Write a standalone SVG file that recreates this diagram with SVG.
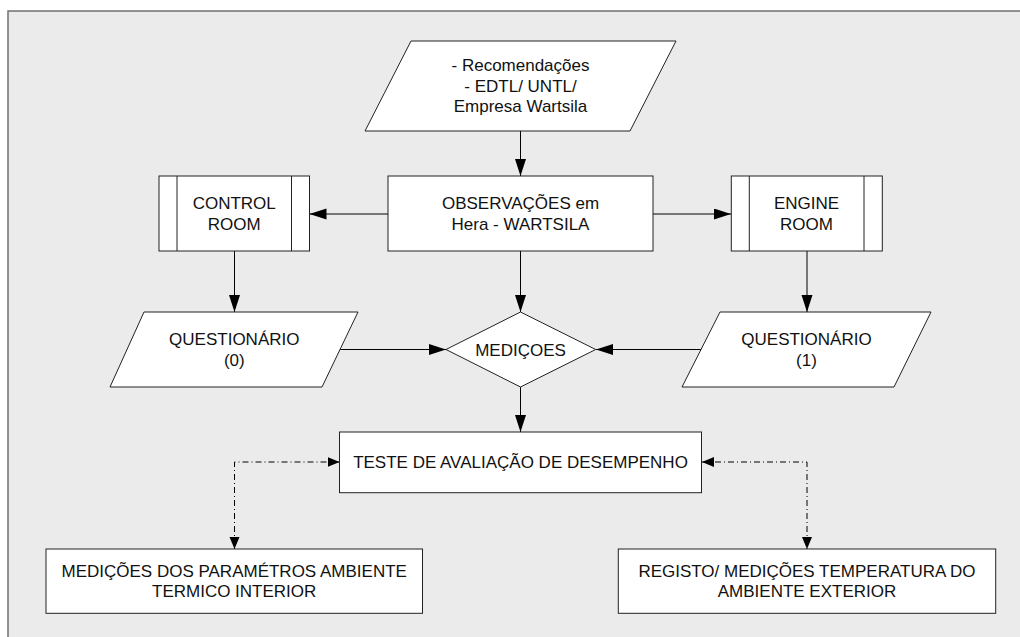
<svg xmlns="http://www.w3.org/2000/svg" width="1020" height="637" viewBox="0 0 1020 637">
<defs>
<style>
.bg{fill:#ebebeb;stroke:#707070;stroke-width:1.5}
.n{fill:#ffffff;stroke:#222;stroke-width:1}
.t{font-family:"Liberation Sans",Arial,sans-serif;font-size:17px;fill:#111;text-anchor:middle}
.c{fill:none;stroke:#000;stroke-width:1}
.d{fill:none;stroke:#000;stroke-width:1;stroke-dasharray:6,3,1,3}
</style>
<marker id="a" markerUnits="userSpaceOnUse" markerWidth="18" markerHeight="12" refX="17" refY="5.5" orient="auto"><path d="M0,0 L17,5.5 L0,11 z" fill="#000"/></marker>
<marker id="s" markerUnits="userSpaceOnUse" markerWidth="13" markerHeight="11" refX="12" refY="5" orient="auto-start-reverse"><path d="M0,0 L12,5 L0,10 z" fill="#000"/></marker>
</defs>
<rect class="bg" x="8" y="11" width="1030" height="640"/>
<g id="connectors">
<line class="c" x1="520.5" y1="131" x2="520.5" y2="176" marker-end="url(#a)"/>
<line class="c" x1="388" y1="214" x2="309.5" y2="214" marker-end="url(#a)"/>
<line class="c" x1="653" y1="214" x2="731" y2="214" marker-end="url(#a)"/>
<line class="c" x1="234.5" y1="251" x2="234.5" y2="312" marker-end="url(#a)"/>
<line class="c" x1="807" y1="251" x2="807" y2="312" marker-end="url(#a)"/>
<line class="c" x1="520.5" y1="251" x2="520.5" y2="312" marker-end="url(#a)"/>
<line class="c" x1="340" y1="349.5" x2="446" y2="349.5" marker-end="url(#a)"/>
<line class="c" x1="701" y1="349.5" x2="596" y2="349.5" marker-end="url(#a)"/>
<line class="c" x1="520.5" y1="387" x2="520.5" y2="432" marker-end="url(#a)"/>
<path class="d" d="M339.5,462 H234.5 V549" marker-start="url(#s)" marker-end="url(#s)"/>
<path class="d" d="M702,462 H807 V549" marker-start="url(#s)" marker-end="url(#s)"/>
</g>
<g id="recomendacoes">
<polygon class="n" points="411,41 676,41 630,131 365,131"/>
<text class="t" x="520.5" y="71.3">- Recomendações</text>
<text class="t" x="520.5" y="91.5">- EDTL/ UNTL/</text>
<text class="t" x="520.5" y="112">Empresa Wartsila</text>
</g>
<g id="observacoes">
<rect class="n" x="388" y="176" width="265" height="75"/>
<text class="t" x="520.5" y="209.3">OBSERVAÇÕES em</text>
<text class="t" x="520.5" y="230">Hera - WARTSILA</text>
</g>
<g id="control-room">
<rect class="n" x="159" y="176" width="150.5" height="75"/>
<line class="n" x1="177" y1="176" x2="177" y2="251"/>
<line class="n" x1="291.5" y1="176" x2="291.5" y2="251"/>
<text class="t" x="234.2" y="209.3">CONTROL</text>
<text class="t" x="234.2" y="230">ROOM</text>
</g>
<g id="engine-room">
<rect class="n" x="731.3" y="176" width="151" height="75"/>
<line class="n" x1="749.3" y1="176" x2="749.3" y2="251"/>
<line class="n" x1="864" y1="176" x2="864" y2="251"/>
<text class="t" x="806.5" y="209.3">ENGINE</text>
<text class="t" x="806.5" y="230">ROOM</text>
</g>
<g id="questionario-0">
<polygon class="n" points="144,312 358,312 322,387 110,387"/>
<text class="t" x="234.3" y="345.3">QUESTIONÁRIO</text>
<text class="t" x="234.3" y="366">(0)</text>
</g>
<g id="medicoes">
<polygon class="n" points="446,349.5 520.5,312 595.7,349.5 520.5,387"/>
<text class="t" x="520.5" y="355.5">MEDIÇOES</text>
</g>
<g id="questionario-1">
<polygon class="n" points="720,312 931,312 894,387 682,387"/>
<text class="t" x="806.5" y="345.3">QUESTIONÁRIO</text>
<text class="t" x="806.5" y="366">(1)</text>
</g>
<g id="teste">
<rect class="n" x="339.5" y="432" width="362" height="60.7"/>
<text class="t" x="520.5" y="468">TESTE DE AVALIAÇÃO DE DESEMPENHO</text>
</g>
<g id="medicoes-parametros">
<rect class="n" x="46" y="549" width="376.5" height="64.3"/>
<text class="t" x="234.2" y="576.7">MEDIÇÕES DOS PARAMÉTROS AMBIENTE</text>
<text class="t" x="234.2" y="597.3">TERMICO INTERIOR</text>
</g>
<g id="registo">
<rect class="n" x="618.3" y="549" width="377.4" height="64.3"/>
<text class="t" x="807" y="576.7">REGISTO/ MEDIÇÕES TEMPERATURA DO</text>
<text class="t" x="807" y="597.3">AMBIENTE EXTERIOR</text>
</g>
</svg>
